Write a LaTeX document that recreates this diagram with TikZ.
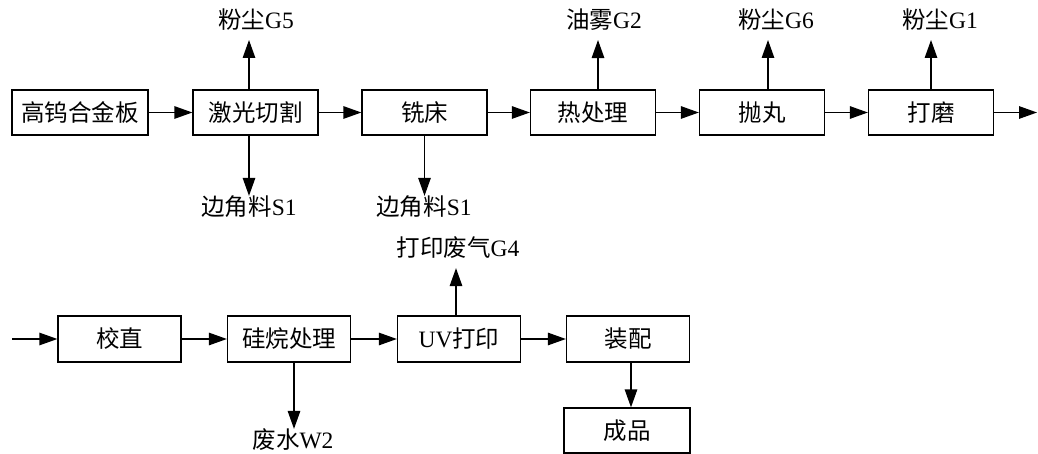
\documentclass[tikz,border=0pt]{standalone}
\usepackage{fontspec}
\setmainfont{Liberation Serif}
\newfontfamily\cjk{Noto Sans CJK SC}
\usetikzlibrary{arrows.meta, positioning}

\begin{document}
\begin{tikzpicture}[x=1pt, y=-1pt,
  proc/.style={draw, line width=1.3pt, minimum width=125pt, minimum height=45pt, inner sep=0pt, font=\fontsize{23.5}{27}\selectfont},
  emis/.style={inner sep=0pt, font=\fontsize{23.5}{27}\selectfont},
  flow/.style={-{Triangle[length=18pt, width=12.5pt]}, line width=1.3pt},
  rise/.style={flow, shorten >=9pt}
]
\useasboundingbox (0,0) rectangle (1038,454);

% first line of the process
\node[proc, minimum width=136pt] (plate) at (80,112.5) {\cjk 高钨合金板};
\node[proc] (laser) at (255.5,112.5) {\cjk 激光切割};
\node[proc] (mill) at (424.5,112.5) {\cjk 铣床};
\node[proc] (heat) at (593,112.5) {\cjk 热处理};
\node[proc] (blast) at (762,112.5) {\cjk 抛丸};
\node[proc] (grind) at (931,112.5) {\cjk 打磨};
\coordinate (out1) at (1037,112.5);

\draw[flow] (plate) -- (laser);
\draw[flow] (laser) -- (mill);
\draw[flow] (mill) -- (heat);
\draw[flow] (heat) -- (blast);
\draw[flow] (blast) -- (grind);
\draw[flow] (grind) -- (out1);

% emissions of the first line
\node[emis] (g5) at (256,20) {{\cjk 粉尘}G5};
\node[emis] (g2) at (604,20) {{\cjk 油雾}G2};
\node[emis] (g6) at (776,20) {{\cjk 粉尘}G6};
\node[emis] (g1) at (940,20) {{\cjk 粉尘}G1};
\node[emis] (s1a) at (249,207) {{\cjk 边角料}S1};
\node[emis] (s1b) at (424,207) {{\cjk 边角料}S1};

\draw[rise] (laser.north -| 249,0) -- (g5.south -| 249,0);
\draw[rise] (heat.north -| 598,0) -- (g2.south -| 598,0);
\draw[rise] (blast.north -| 768,0) -- (g6.south -| 768,0);
\draw[rise] (grind.north) -- (grind.north |- g1.south);
\draw[flow] (laser.south -| 249,0) -- (s1a.north -| 249,0);
\draw[flow] (mill.south) -- (mill.south |- s1b.north);

% second line of the process
\coordinate (in2) at (12,339);
\node[proc, minimum width=123pt, minimum height=46pt] (straight) at (119.5,339) {\cjk 校直};
\node[proc, minimum width=123pt, minimum height=46pt] (silane) at (289,339) {\cjk 硅烷处理};
\node[proc, minimum width=123pt, minimum height=46pt] (uvprint) at (459,339) {UV{\cjk 打印}};
\node[proc, minimum width=123pt, minimum height=46pt] (assem) at (628,339) {\cjk 装配};
\node[proc, minimum width=126pt] (product) at (627,430.5) {\cjk 成品};

\draw[flow] (in2) -- (straight);
\draw[flow] (straight) -- (silane);
\draw[flow] (silane) -- (uvprint);
\draw[flow] (uvprint) -- (assem);
\draw[flow] (assem.south -| 631,0) -- (product.north -| 631,0);

% emissions of the second line
\node[emis] (g4) at (458,248) {{\cjk 打印废气}G4};
\node[emis] (w2) at (293,440) {{\cjk 废水}W2};
\draw[rise] (uvprint.north -| 456,0) -- (g4.south -| 456,0);
\draw[flow] (silane.south -| 294,0) -- (w2.north -| 294,0);
\end{tikzpicture}
\end{document}
